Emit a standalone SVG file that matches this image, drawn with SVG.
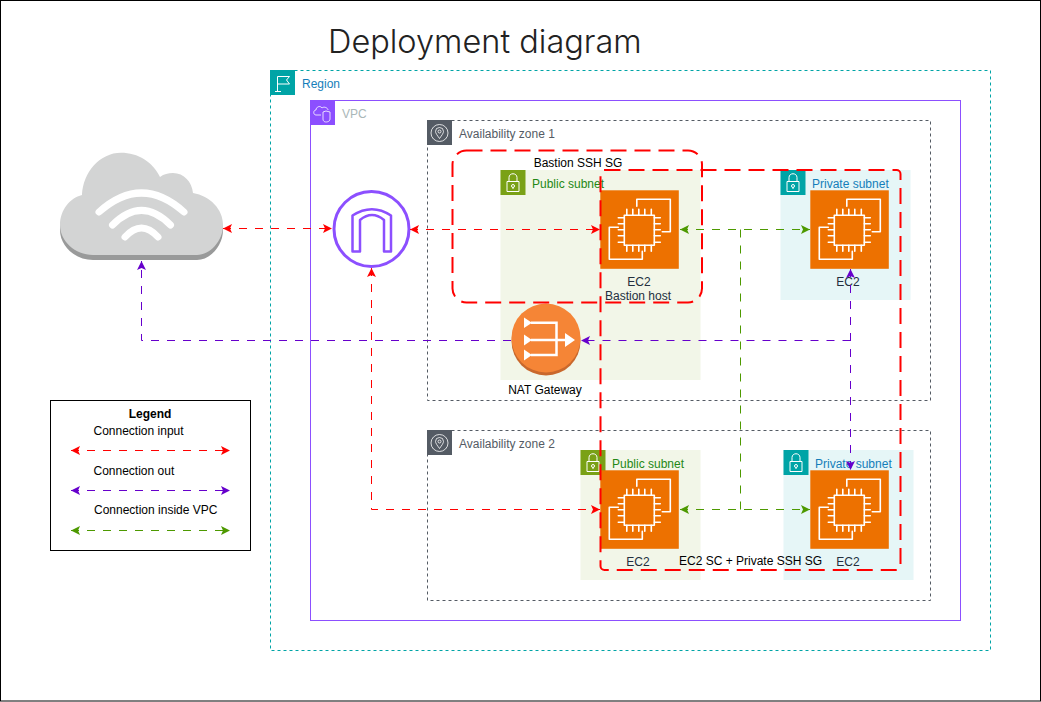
<svg xmlns="http://www.w3.org/2000/svg" width="1041" height="702" viewBox="0 0 1041 702">
<style>
text{font-family:"Liberation Sans",Arial,sans-serif;font-size:12px;fill:#232f3e}
.k{fill:#000}
.c{text-anchor:middle}
.conn{fill:none;stroke-width:1;stroke-dasharray:8 8}
.red{stroke:#ff0000;marker-start:url(#ar);marker-end:url(#ar)}
.pur{stroke:#6600cc}
.grn{stroke:#4d9900}
.box{fill:none}
.sg{fill:none;stroke:#ff0000;stroke-width:2;stroke-dasharray:16 8}
.ec2bg{fill:#ed7100}
.w{fill:none;stroke:#fff;stroke-width:1.6;stroke-linejoin:round;stroke-linecap:round}
</style>
<defs>
<marker id="ar" markerUnits="userSpaceOnUse" markerWidth="10" markerHeight="10" refX="9" refY="5" orient="auto-start-reverse"><path d="M0 0.5L9 5L0 9.5L2 5Z" fill="#ff0000"/></marker>
<marker id="ap" markerUnits="userSpaceOnUse" markerWidth="10" markerHeight="10" refX="9" refY="5" orient="auto-start-reverse"><path d="M0 0.5L9 5L0 9.5L2 5Z" fill="#6600cc"/></marker>
<marker id="ag" markerUnits="userSpaceOnUse" markerWidth="10" markerHeight="10" refX="9" refY="5" orient="auto-start-reverse"><path d="M0 0.5L9 5L0 9.5L2 5Z" fill="#4d9900"/></marker>
<g id="ec2">
<rect class="ec2bg" width="78.5" height="78.5"/>
<path class="w" d="M36.5 16V9H70V41.5H62M18 37H9V69H42V61"/>
<rect class="w" x="24" y="25" width="30" height="30" stroke-width="2"/>
<path class="w" d="M26.5 19V25M32.5 19V25M38.5 19V25M44.5 19V25M51 19V25M26.5 55V61M32.5 55V61M38.5 55V61M44.5 55V61M51 55V61M18 27.500H24M18 33.500H24M18 39.500H24M18 45.500H24M18 52H24M54 27.500H60M54 33.500H60M54 39.500H60M54 45.500H60M54 52H60"/>
</g>
<g id="lock">
<path fill="none" stroke="#fff" stroke-width="1" d="M6.500 11.500H18.500V21.500H6.500ZM8.500 11.500V7.500C8.500 2.500 16.500 2.500 16.500 7.500V11.500M12.500 17.500V19M14 16A1.500 1.500 0 1 1 11 16A1.500 1.500 0 1 1 14 16Z"/>
</g>
</defs>
<rect id="page" x="0.500" y="0.500" width="1040" height="700.500" fill="#fff" stroke="#000"/>
<text id="title" x="328" y="53" style="font-family:Inter,'Liberation Sans',sans-serif;font-size:32.500px;font-weight:300;fill:#222">Deployment diagram</text>

<g id="region">
<rect class="box" x="270.500" y="70.500" width="720" height="580" stroke="#00a4a6" stroke-dasharray="3 3"/>
<rect x="270" y="70" width="25" height="25" fill="#00a4a6"/>
<path fill="none" stroke="#fff" d="M277.500 91.500V76.500H289.500L286.500 80L289.500 84H278M275 91.500H281"/>
<text x="302" y="88" style="fill:#147eba">Region</text>
</g>
<g id="vpc">
<rect class="box" x="310.500" y="100.500" width="650" height="520" stroke="#8c4fff"/>
<rect x="310" y="100" width="25" height="25" fill="#8c4fff"/>
<path fill="none" stroke="#fff" stroke-width="0.800" d="M321 115H316C313 115 313 110 316 110C316 107 320 105 322 108C324 106 328 108 328 110M326 111L330 112V119C330 122 326 122 326 122C326 122 323 122 323 119V112Z"/>
<text x="342" y="118" style="fill:#aab7b8">VPC</text>
</g>
<g id="az1">
<rect class="box" x="427.500" y="120.500" width="503" height="280" stroke="#545b64" stroke-dasharray="3 3"/>
<rect x="427" y="120" width="25" height="25" fill="#545b64"/>
<circle cx="439.500" cy="133" r="8.500" fill="none" stroke="#fff" stroke-width="0.800"/>
<path fill="none" stroke="#fff" stroke-width="0.800" d="M439.500 138.500C437 135 435.500 133 435.500 131.500A4 4 0 0 1 443.500 131.500C443.500 133 442 135 439.500 138.500ZM441 131.500A1.500 1.500 0 1 1 438 131.500A1.500 1.500 0 1 1 441 131.500Z"/>
<text x="459" y="138" style="fill:#545b64">Availability zone 1</text>
</g>
<g id="az2">
<rect class="box" x="427.500" y="430.500" width="503" height="170" stroke="#545b64" stroke-dasharray="3 3"/>
<rect x="427" y="430" width="25" height="25" fill="#545b64"/>
<circle cx="439.500" cy="443" r="8.500" fill="none" stroke="#fff" stroke-width="0.800"/>
<path fill="none" stroke="#fff" stroke-width="0.800" d="M439.500 448.500C437 445 435.500 443 435.500 441.500A4 4 0 0 1 443.500 441.500C443.500 443 442 445 439.500 448.500ZM441 441.500A1.500 1.500 0 1 1 438 441.500A1.500 1.500 0 1 1 441 441.500Z"/>
<text x="459" y="448" style="fill:#545b64">Availability zone 2</text>
</g>
<g id="public-subnet-1">
<rect x="500.500" y="170" width="200" height="210" fill="#f2f6e8"/>
<rect x="500.500" y="170" width="25" height="25" fill="#7aa116"/><use href="#lock" x="500.500" y="170"/>
<text x="532" y="188" style="fill:#248814">Public subnet</text>
</g>
<g id="private-subnet-1">
<rect x="780.500" y="170" width="130" height="130" fill="#e6f6f7"/>
<rect x="780.500" y="170" width="25" height="25" fill="#00a4a6"/><use href="#lock" x="780.500" y="170"/>
<text x="812" y="188" style="fill:#147eba">Private subnet</text>
</g>
<g id="public-subnet-2">
<rect x="580.500" y="450" width="120" height="130" fill="#f2f6e8"/>
<rect x="580.500" y="450" width="25" height="25" fill="#7aa116"/><use href="#lock" x="580.500" y="450"/>
<text x="612" y="468" style="fill:#248814">Public subnet</text>
</g>
<g id="private-subnet-2">
<rect x="783.500" y="450" width="130" height="130" fill="#e6f6f7"/>
<rect x="783.500" y="450" width="25" height="25" fill="#00a4a6"/><use href="#lock" x="783.500" y="450"/>
<text x="815" y="468" style="fill:#147eba">Private subnet</text>
</g>

<g id="ec2-bastion"><use href="#ec2" x="600.300" y="190.300"/><text class="c" x="639" y="286">EC2</text><text class="c" x="638" y="300">Bastion host</text></g>
<g id="ec2-private-1"><use href="#ec2" x="810.300" y="190.300"/><text class="c" x="848" y="286">EC2</text></g>
<g id="ec2-public-2"><use href="#ec2" x="600.300" y="470.300"/><text class="c" x="638" y="566">EC2</text></g>
<g id="ec2-private-2"><use href="#ec2" x="810.300" y="470.300"/><text class="c" x="848" y="566">EC2</text></g>

<g id="internet-cloud">
<path transform="translate(0 5)" fill="#999a9a" d="M60 225C60 210 70 198 82 195C83 172 100 152.700 121 152.700C138 152.700 153 162 160 177C164 174 168 173 173 173C184 173 192 182 193 193C210 196 223 209 223 225C223 241 210 255 197 255H93C75 255 60 241 60 225Z"/>
<path fill="#d3d4d4" d="M60 225C60 210 70 198 82 195C83 172 100 152.700 121 152.700C138 152.700 153 162 160 177C164 174 168 173 173 173C184 173 192 182 193 193C210 196 223 209 223 225C223 241 210 255 197 255H93C75 255 60 241 60 225Z"/>
<path fill="none" stroke="#fff" stroke-width="7" stroke-linecap="round" d="M99 212Q141.500 174 184 212M112.500 225Q141.500 196 170.500 225M125 237Q141.500 219 158 237"/>
</g>
<g id="internet-gateway">
<circle cx="371.500" cy="229" r="37.500" fill="#fff" stroke="#8c4fff" stroke-width="3"/>
<path fill="none" stroke="#8c4fff" stroke-width="2.500" stroke-linejoin="round" d="M352.500 251.500V215.500Q372 203 391 215.500V251.500H384V220Q372 210 360 220V251.500Z"/>
</g>
<g id="nat-gateway">
<circle cx="546" cy="341" r="34.500" fill="#c9682c"/>
<circle cx="546" cy="338" r="34.500" fill="#f58536"/>
<path fill="#fff" d="M524 317.500L532 322.700L524 328ZM524 334.500L532 340L524 345.500ZM524 349.500L532 355L524 360.500ZM565 333L575 340L565 347Z"/>
<path fill="none" stroke="#fff" stroke-width="2.500" d="M531 322.700H556.500V355H531M531 340H566"/>
<text class="c k" x="545" y="394">NAT Gateway</text>
</g>

<g id="connectors">
<path class="conn red" d="M223 228.500H332"/>
<path class="conn red" d="M410 229.500H600"/>
<path class="conn red" d="M371.500 268V509.500H600"/>
<path class="conn grn" style="marker-start:url(#ag);marker-end:url(#ag)" d="M680 229.500H810"/>
<path class="conn grn" style="marker-start:url(#ag);marker-end:url(#ag)" d="M680 509.500H810"/>
<path class="conn grn" d="M740.500 229.500V509.500"/>
<path class="conn pur" style="marker-end:url(#ap)" d="M511 340.500H141.500V261"/>
<path class="conn pur" style="marker-end:url(#ap)" d="M850.500 340.500H581"/>
<path class="conn pur" style="marker-start:url(#ap);marker-end:url(#ap)" d="M850.500 269V470"/>
</g>

<g id="bastion-sg">
<rect class="sg" x="452.500" y="150.500" width="249.500" height="152" rx="14"/>
<text class="k c" x="578" y="167">Bastion SSH SG</text>
</g>
<g id="ec2-sg">
<rect class="sg" x="600.500" y="170" width="300" height="400" rx="4"/>
<text class="k" x="679" y="565">EC2 SC + Private SSH SG</text>
</g>

<g id="legend">
<rect x="50.500" y="400.500" width="200" height="150" fill="#fff" stroke="#000"/>
<text class="k c" x="150" y="418" style="font-weight:bold">Legend</text>
<text class="k" x="93.500" y="435">Connection input</text>
<text class="k" x="93.500" y="475">Connection out</text>
<text class="k" x="94" y="514">Connection inside VPC</text>
<path class="conn red" d="M71 450.500H230"/>
<path class="conn pur" style="marker-start:url(#ap);marker-end:url(#ap)" d="M71 490.500H230"/>
<path class="conn grn" style="marker-start:url(#ag);marker-end:url(#ag)" d="M71 530.500H230"/>
</g>
</svg>
